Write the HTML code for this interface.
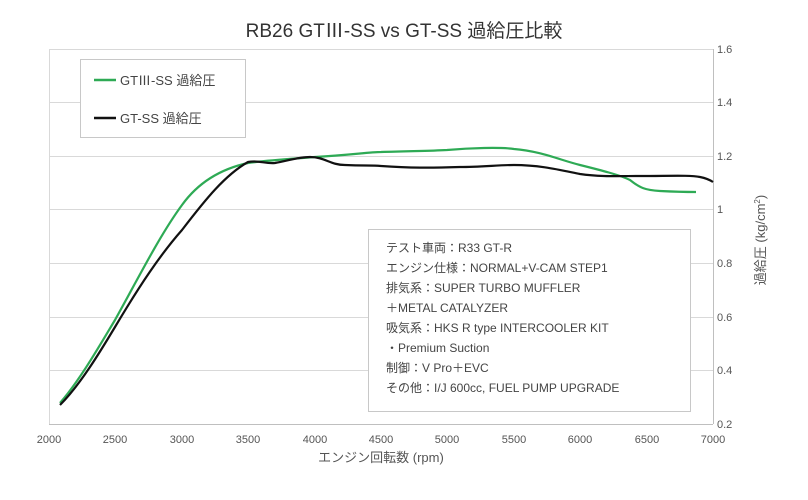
<!DOCTYPE html>
<html><head><meta charset="utf-8"><style>
body{margin:0;background:#fff;}
svg{display:block;font-family:"Liberation Sans","Noto Sans CJK JP",sans-serif;}
</style></head><body>
<svg width="808" height="500" viewBox="0 0 808 500">
<rect width="808" height="500" fill="#fff"/>
<text x="404" y="37" text-anchor="middle" font-size="19" fill="#333">RB26 GTⅢ-SS vs GT-SS 過給圧比較</text>
<g stroke="#d9d9d9" stroke-width="1">
<line x1="49" y1="49.5" x2="713" y2="49.5"/>
<line x1="49" y1="102.5" x2="713" y2="102.5"/>
<line x1="49" y1="156.5" x2="713" y2="156.5"/>
<line x1="49" y1="209.5" x2="713" y2="209.5"/>
<line x1="49" y1="263.5" x2="713" y2="263.5"/>
<line x1="49" y1="317.5" x2="713" y2="317.5"/>
<line x1="49" y1="370.5" x2="713" y2="370.5"/>
<line x1="49.5" y1="49" x2="49.5" y2="424"/>
</g>
<g stroke="#bfbfbf"><line x1="49" y1="424.5" x2="713" y2="424.5"/><line x1="713.5" y1="49" x2="713.5" y2="424"/></g>
<g font-size="11" fill="#555">
<text x="717" y="53">1.6</text><text x="717" y="106">1.4</text><text x="717" y="160">1.2</text>
<text x="717" y="213">1</text><text x="717" y="267">0.8</text><text x="717" y="321">0.6</text>
<text x="717" y="374">0.4</text><text x="717" y="428">0.2</text>
</g>
<g font-size="11" fill="#555" text-anchor="middle">
<text x="49" y="443">2000</text><text x="115" y="443">2500</text><text x="182" y="443">3000</text>
<text x="248" y="443">3500</text><text x="315" y="443">4000</text><text x="381" y="443">4500</text>
<text x="447" y="443">5000</text><text x="514" y="443">5500</text><text x="580" y="443">6000</text>
<text x="647" y="443">6500</text><text x="713" y="443">7000</text>
</g>
<text x="381" y="462" text-anchor="middle" font-size="13" fill="#555">エンジン回転数 (rpm)</text>
<text transform="translate(765,240) rotate(-90)" text-anchor="middle" font-size="13" fill="#555">過給圧 (kg/cm<tspan font-size="8" dy="-5">2</tspan><tspan dy="5">)</tspan></text>
<path d="M60,403 C80,380 100,345 115,320 C140,275 160,235 182,205 C200,180 225,168 248,163 C270,160 290,159 315,157 C350,155 370,152 381,152 C410,151 430,151 447,150 C470,148 500,147 514,149 C540,151 560,160 580,165 C600,170 620,175 630,180 C640,188 645,190 660,191 C680,192 690,192 696,192" fill="none" stroke="#2eaa55" stroke-width="2.2"/>
<path d="M60,405 C80,385 100,352 115,327 C140,285 160,255 182,230 C205,200 225,175 248,162 C260,160 265,164 275,163 C290,160 300,157 310,157 C325,157 330,165 345,165 C365,166 370,165 381,166 C410,168 430,168 460,167 C480,167 500,165 514,165 C540,165 560,170 580,174 C600,177 620,176 640,176 C670,176 690,175 700,177 C705,178 710,180 713,182" fill="none" stroke="#111" stroke-width="2.2"/>
<rect x="80.5" y="59.5" width="165" height="78" fill="#fff" stroke="#c8c8c8"/>
<line x1="94" y1="80" x2="116" y2="80" stroke="#2eaa55" stroke-width="2.5"/>
<line x1="94" y1="118" x2="116" y2="118" stroke="#111" stroke-width="2.5"/>
<text x="120" y="85" font-size="13" fill="#444">GTⅢ-SS 過給圧</text>
<text x="120" y="123" font-size="13" fill="#444">GT-SS 過給圧</text>
<rect x="368.5" y="229.5" width="322" height="182" fill="#fff" stroke="#c8c8c8"/>
<g font-size="12" fill="#444">
<text x="386" y="252">テスト車両：R33 GT-R</text>
<text x="386" y="272">エンジン仕様：NORMAL+V-CAM STEP1</text>
<text x="386" y="292">排気系：SUPER TURBO MUFFLER</text>
<text x="386" y="312">＋METAL CATALYZER</text>
<text x="386" y="332">吸気系：HKS R type INTERCOOLER KIT</text>
<text x="386" y="352">・Premium Suction</text>
<text x="386" y="372">制御：V Pro＋EVC</text>
<text x="386" y="392">その他：I/J 600cc, FUEL PUMP UPGRADE</text>
</g>
</svg>
</body></html>
